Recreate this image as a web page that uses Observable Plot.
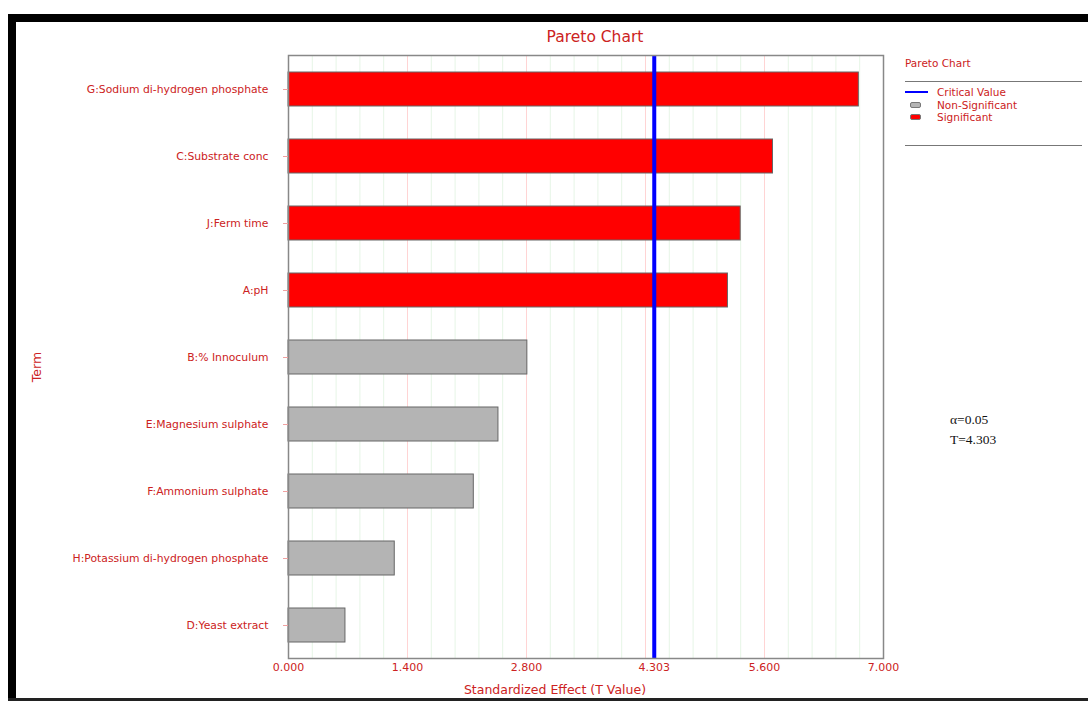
<!DOCTYPE html>
<html>
<head>
<meta charset="utf-8">
<script src="https://cdn.jsdelivr.net/npm/d3@7"></script>
<script src="https://cdn.jsdelivr.net/npm/@observablehq/plot@0.6"></script>
<style>
  html, body { margin: 0; padding: 0; background: #fff; }
  #wrap { position: relative; width: 1088px; height: 701px; overflow: hidden; font-family: "DejaVu Sans", sans-serif; }
  #chart { position: absolute; left: 0; top: 0; }
  .abs { position: absolute; }
  .red { color: #cc2222; }
</style>
</head>
<body>
<div id="wrap">
  <div id="chart"></div>
  <!-- black border -->
  <div class="abs" style="left:8px; top:14px; width:1080px; height:8px; background:#000;"></div>
  <div class="abs" style="left:8px; top:14px; width:8px; height:687px; background:#000;"></div>
  <div class="abs" style="left:8px; top:698px; width:1080px; height:3px; background:#222;"></div>
  <!-- title -->
  <div class="abs red" id="title" style="left:495px; width:200px; top:27px; text-align:center; font-size:15.5px; line-height:20px;"></div>
  <!-- axis labels -->
  <div class="abs red" id="xlab" style="left:405px; width:300px; top:682px; text-align:center; font-size:12.5px; line-height:16px;"></div>
  <div class="abs red" id="ylab" style="left:17px; width:40px; top:359px; text-align:center; font-size:12.5px; line-height:16px; transform:rotate(-90deg);"></div>
  <!-- legend -->
  <div class="abs red" id="legendTitle" style="left:905px; top:56px; font-size:10.5px; line-height:14px;"></div>
  <div class="abs" style="left:905px; top:81px; width:177px; height:1px; background:#777;"></div>
  <div id="legendItems"></div>
  <div class="abs" style="left:905px; top:145px; width:177px; height:1px; background:#777;"></div>
  <!-- annotation -->
  <div class="abs" id="note" style="left:950px; top:410px; font-family:'Liberation Serif', serif; font-size:13.5px; line-height:20px; color:#111;"></div>
</div>
<script>
// ---- data ----
const terms = [
  "G:Sodium di-hydrogen phosphate",
  "C:Substrate conc",
  "J:Ferm time",
  "A:pH",
  "B:% Innoculum",
  "E:Magnesium sulphate",
  "F:Ammonium sulphate",
  "H:Potassium di-hydrogen phosphate",
  "D:Yeast extract"
];
const values = [6.71, 5.70, 5.32, 5.17, 2.81, 2.47, 2.18, 1.25, 0.67];
const criticalValue = 4.303;
const alpha = 0.05;
const xTicks = [0, 1.4, 2.8, 4.303, 5.6, 7.0];
const majorGrid = [1.4, 2.8, 4.2, 5.6];
const minorGrid = [0.28, 0.56, 0.84, 1.12, 1.68, 1.96, 2.24, 2.52, 3.08, 3.36, 3.64, 3.92, 4.48, 4.76, 5.04, 5.32, 5.88, 6.16, 6.44, 6.72];
const legendLabels = ["Critical Value", "Non-Significant", "Significant"];
const legendColors = ["#0000ff", "#b4b4b4", "#ff0000"];
const titleText = "Pareto Chart";
const xLabel = "Standardized Effect (T Value)";
const yLabel = "Term";

const data = terms.map((t, i) => ({
  term: t,
  value: values[i],
  status: values[i] > criticalValue ? "Significant" : "Non-Significant"
}));

const red = "#cc2222";

const chart = Plot.plot({
  width: 1088,
  height: 701,
  marginLeft: 288,
  marginRight: 205,
  marginTop: 55,
  marginBottom: 43,
  style: { fontFamily: "DejaVu Sans, sans-serif", fontSize: "10.8px", background: "transparent", overflow: "visible" },
  x: { domain: [0, 7] },
  y: { domain: terms, paddingInner: 0.5, paddingOuter: 0.25 },
  color: { domain: ["Non-Significant", "Significant"], range: ["#b4b4b4", "#ff0000"] },
  marks: [
    Plot.ruleX(minorGrid, { stroke: "#e6f5e6", strokeWidth: 1 }),
    Plot.ruleX(majorGrid, { stroke: "#ffd4d4", strokeWidth: 1 }),
    Plot.barX(data, { x: "value", y: "term", fill: "status", stroke: "#666", strokeWidth: 1 }),
    Plot.ruleX([criticalValue], { stroke: "#0000ff", strokeWidth: 4 }),
    Plot.frame({ stroke: "#888", strokeWidth: 1.5 }),
    Plot.axisX({
      ticks: xTicks, tickFormat: d => d.toFixed(3), tickSize: 0, tickPadding: 5,
      color: red, fontSize: 11, label: null
    }),
    Plot.axisY({
      tickSize: 5, tickPadding: 15, stroke: "#f0a0a0", fill: red, fontSize: 10.8, label: null
    })
  ]
});
document.getElementById("chart").appendChild(chart);

document.getElementById("title").textContent = titleText;
document.getElementById("xlab").textContent = xLabel;
document.getElementById("ylab").textContent = yLabel;
document.getElementById("legendTitle").textContent = titleText;
document.getElementById("note").innerHTML = "\u03b1=" + alpha.toFixed(2) + "<br>T=" + criticalValue.toFixed(3);

const li = document.getElementById("legendItems");
legendLabels.forEach((lab, i) => {
  const top = 86 + i * 12.5;
  const sw = document.createElement("div");
  sw.className = "abs";
  if (i === 0) {
    sw.style.cssText = `left:905px; top:${top + 5}px; width:23px; height:2px; background:${legendColors[i]};`;
  } else {
    sw.style.cssText = `left:910px; top:${top + 3}px; width:11px; height:6px; background:${legendColors[i]}; border:1px solid #777; border-radius:2px; box-sizing:border-box;`;
  }
  li.appendChild(sw);
  const tx = document.createElement("div");
  tx.className = "abs red";
  tx.style.cssText = `left:937px; top:${top}px; font-size:10.5px; line-height:12px;`;
  tx.textContent = lab;
  li.appendChild(tx);
});
</script>
</body>
</html>
